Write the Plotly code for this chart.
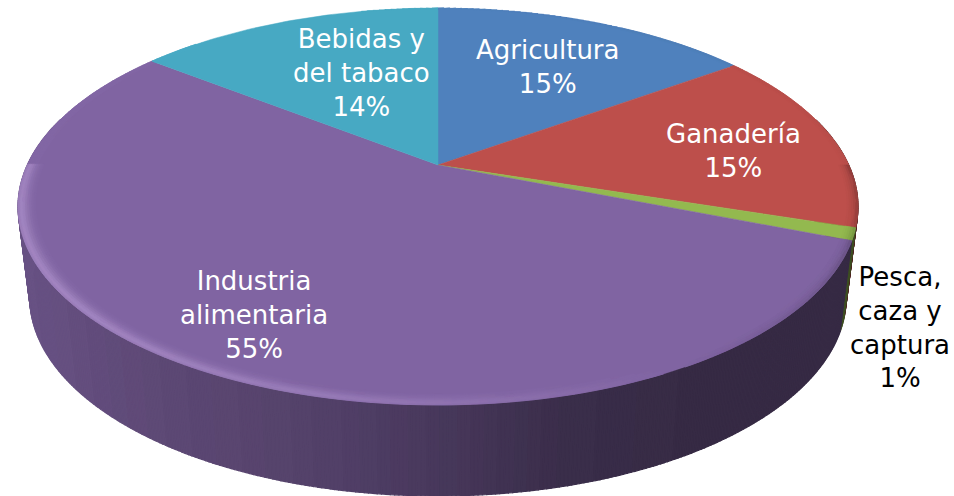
import numpy as np
import plotly.graph_objects as go

# ---- data ----
categories = ["Agricultura", "Ganadería", "Pesca, caza y captura", "Industria alimentaria", "Bebidas y del tabaco"]
values = [15, 15, 1, 54.6, 14.4]
colors = ["#4f81bd", "#bd4f4b", "#93b94f", "#8064a2", "#47a9c3"]

# ---- projection of the tilted disc ----
CX, CY, A, B, P = 438, 165, 410.7, 189.8, 0.209
DEPTH, SHRINK = 91, 0.972


def top(theta, r=1.0):
    u, v = r * np.sin(theta), r * np.cos(theta)
    d = 1 + P * v
    return CX + A * u / d, CY - B * v / d


def bottom(theta):
    x, y = top(theta)
    return CX + (x - CX) * SHRINK, y + DEPTH


def rgb(h):
    return np.array([int(h[i:i + 2], 16) for i in (1, 3, 5)], float)


def css(c):
    c = np.clip(np.round(c / 2) * 2, 0, 255).astype(int)
    return f"rgb({c[0]},{c[1]},{c[2]})"


shares = np.array(values, float) / sum(values)
edges = np.concatenate([[0], np.cumsum(shares)]) * 2 * np.pi


def angles(a, b, step):
    n = max(2, int(np.ceil((b - a) / step)) + 1)
    return np.linspace(a, b, n)


groups = {}
order = []


def add(color, xs, ys):
    k = css(color)
    if k not in groups:
        groups[k] = ([], [])
        order.append(k)
    groups[k][0].extend(list(xs) + [xs[0], None])
    groups[k][1].extend(list(ys) + [ys[0], None])


def flush(fig, width):
    for k in order:
        fig.add_trace(go.Scatter(x=groups[k][0], y=groups[k][1], mode="lines", fill="toself",
                                 fillcolor=k, line=dict(color=k, width=width),
                                 hoverinfo="skip", showlegend=False))
    groups.clear()
    order.clear()


fig = go.Figure()

# side wall, shaded by horizontal position (quantised so all channels step together)
SX = [0, 30, 150, 300, 438, 560, 700, 860]
SF = [0.82, 0.81, 0.73, 0.66, 0.56, 0.46, 0.42, 0.42]
for i, col in enumerate(colors):
    base = rgb(col)
    th = angles(edges[i], edges[i + 1], np.radians(0.5))
    for a, b in zip(th[:-1], th[1:]):
        m = (a + b) / 2
        if np.cos(m) > 0.25:
            continue
        x0, y0 = top(a)
        x1, y1 = top(b)
        x2, y2 = bottom(b)
        x3, y3 = bottom(a)
        f = np.round(np.interp((x0 + x1) / 2, SX, SF) / 0.012) * 0.012
        add(base * f, [x0, x1, x2, x3], [y0, y1, y2, y3])
flush(fig, 1.2)

# top face
for i, col in enumerate(colors):
    th = angles(edges[i], edges[i + 1], np.radians(1))
    xs, ys = top(th)
    fig.add_trace(go.Scatter(x=[CX] + list(xs) + [CX], y=[CY] + list(ys) + [CY], mode="lines",
                             fill="toself", fillcolor=col, line=dict(color=col, width=0.5),
                             hoverinfo="skip", showlegend=False))

# bevel round the rim of the top face
RINGS = np.linspace(0.955, 1.0, 10)
for i, col in enumerate(colors):
    base = rgb(col)
    th = angles(edges[i], edges[i + 1], np.radians(1))
    for a, b in zip(th[:-1], th[1:]):
        m = (a + b) / 2
        h = -(0.85 * np.sin(m) + 0.45 * np.cos(m))
        if np.cos(m) > 0:
            h *= 0.1
        for r0, r1 in zip(RINGS[:-1], RINGS[1:]):
            t = ((r0 + r1) / 2 - RINGS[0]) / (RINGS[-1] - RINGS[0])
            prof = (t / 0.8) ** 2 if t < 0.8 else 1 - (t - 0.8) * 1.5
            if h < 0:
                prof = t ** 4
            amt = abs(h) * prof
            if amt < 0.02:
                continue
            target = np.array([230, 200, 255.0]) if h > 0 else np.array([0, 0, 0.0])
            c = base + (target - base) * amt * (0.36 if h > 0 else 0.32)
            xa, ya = top(a, r0)
            xb, yb = top(b, r0)
            xc, yc = top(b, r1)
            xd, yd = top(a, r1)
            add(c, [xa, xb, xc, xd], [ya, yb, yc, yd])
flush(fig, 0.8)

# labels
labels = [
    ("Agricultura<br>15%", 548, 67, "white"),
    ("Ganadería<br>15%", 733, 151, "white"),
    ("Bebidas y<br>del tabaco<br>14%", 361, 73, "white"),
    ("Industria<br>alimentaria<br>55%", 254, 315, "white"),
    ("Pesca,<br>caza y<br>captura<br>1%", 900, 327, "black"),
]
for text, x, y, c in labels:
    fig.add_annotation(x=x, y=y, text=text, showarrow=False, align="center",
                       xanchor="center", yanchor="middle",
                       font=dict(family="DejaVu Sans", size=26, color=c))

fig.update_layout(
    width=954, height=496, margin=dict(l=0, r=0, t=0, b=0),
    paper_bgcolor="white", plot_bgcolor="white", showlegend=False,
    xaxis=dict(range=[0, 954], visible=False, fixedrange=True),
    yaxis=dict(range=[496, 0], visible=False, fixedrange=True),
)
fig.write_html("out.html", config=dict(displayModeBar=False),
               post_script="document.body.style.margin='0';document.body.style.overflow='hidden';")
